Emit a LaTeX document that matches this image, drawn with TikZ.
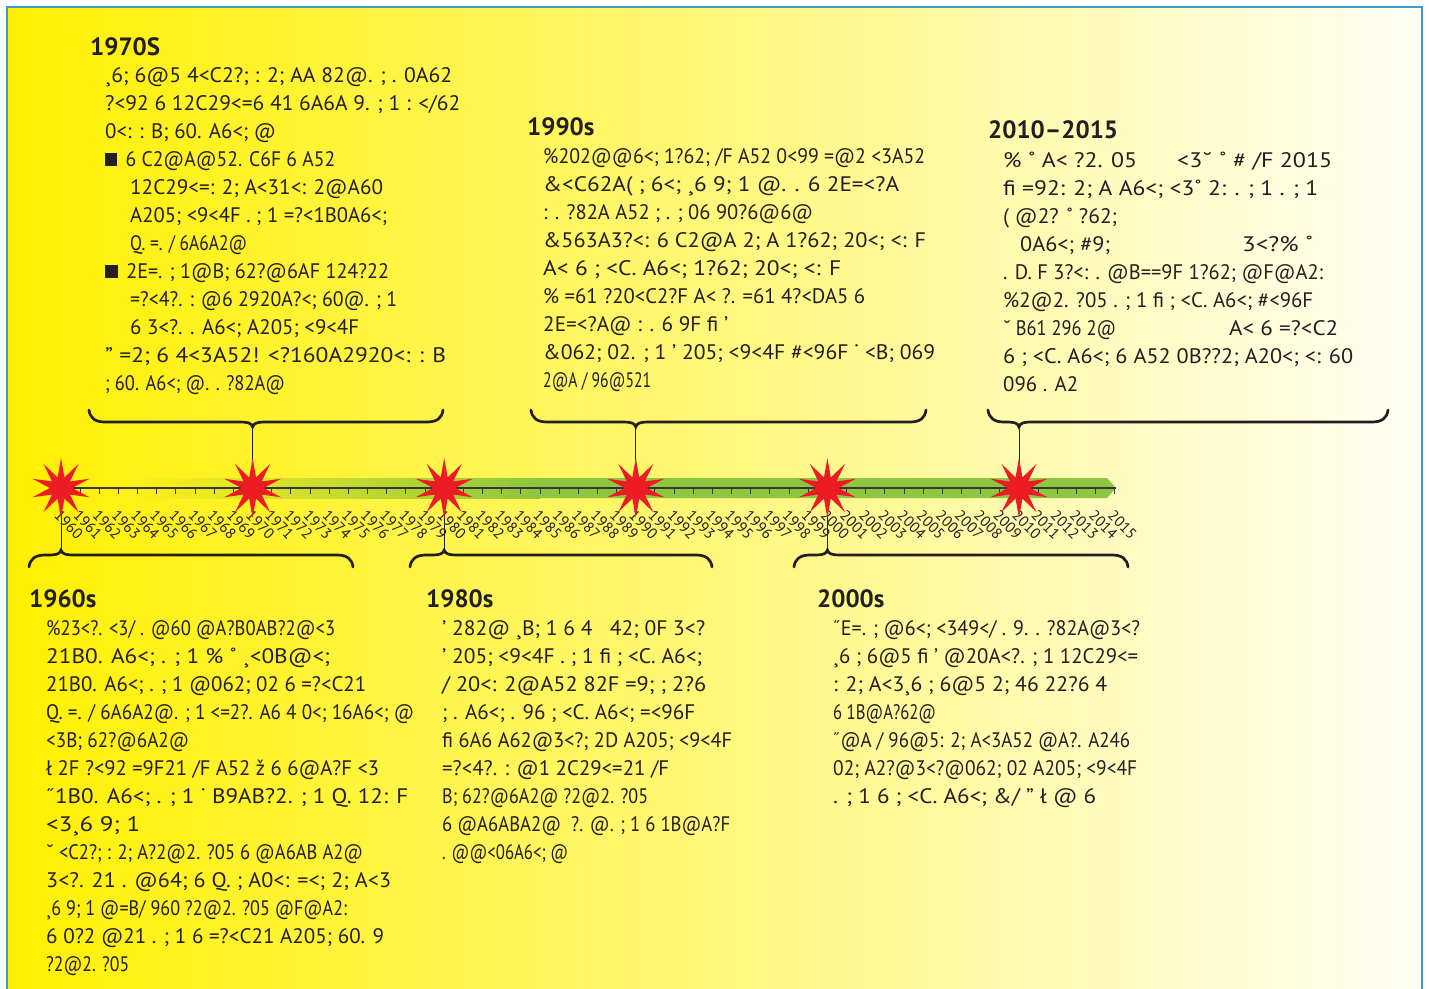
\documentclass[tikz,border=0pt]{standalone}
\usepackage{fontspec}
\setmainfont{PT Sans}
\usetikzlibrary{shapes.geometric}
\definecolor{ink}{HTML}{231F20}
\definecolor{bandgreen}{HTML}{8DC63F}
\definecolor{burstred}{HTML}{ED1C24}
\definecolor{frameblue}{HTML}{3D9AD6}
\definecolor{bgleft}{HTML}{FFF000}
\definecolor{bgmid}{HTML}{FFF69A}
\definecolor{bgright}{HTML}{FFFEF4}
\definecolor{bgband}{HTML}{FFF11C}
% #1 x left, #2 x right, #3 x tip, #4 y of ends, #5 direction (+1 tip down, -1 tip up)
\newcommand\tlbrace[5]{%
  \draw[bracestyle] (#1,#4) .. controls ({#1+1},{#4+8*#5}) and ({#1+6},{#4+12*#5}) .. ({#1+16},{#4+12*#5})
    -- ({#3-12},{#4+12*#5}) .. controls ({#3-5},{#4+12*#5}) and ({#3-1},{#4+13*#5}) .. ({#3},{#4+17*#5})
    .. controls ({#3+1},{#4+13*#5}) and ({#3+5},{#4+12*#5}) .. ({#3+12},{#4+12*#5})
    -- ({#2-16},{#4+12*#5}) .. controls ({#2-6},{#4+12*#5}) and ({#2-1},{#4+8*#5}) .. (#2,#4);}
\newcommand\sq{\rule{13pt}{13pt}\hspace{9pt}}
\newsavebox\fitbox
\newcommand\fitline[2]{\sbox\fitbox{#2}\scalebox{\fpeval{(#1pt)/(\the\wd\fitbox)}}[1]{\usebox\fitbox}}
\newcommand\ind{\hspace*{25pt}}
\begin{document}
\begin{tikzpicture}[x=1pt,y=-1pt,
  bracestyle/.style={draw=ink,line width=2.7pt,line cap=round},
  conn/.style={draw=ink,line width=1pt},
  burst/.style={star,star points=10,star point ratio=2.7,minimum size=60pt,inner sep=0pt,fill=burstred,draw=none},
  ttl/.style={font=\fontsize{25}{30}\selectfont\bfseries,text=ink,anchor=base west,inner sep=0pt},
  body/.style={font=\fontsize{21}{28}\selectfont,text=ink,anchor=base west,inner sep=0pt},
  yr/.style={font=\fontsize{15}{15}\selectfont,text=ink,rotate=-45,anchor=west,inner sep=0pt}]
\useasboundingbox (0,0) rectangle (1429,988);
\fill[white] (0,0) rectangle (1429,988);
\shade[left color=bgleft,middle color=bgmid,right color=bgright] (7,7) rectangle (1422,992);
\draw[frameblue,line width=1.2pt] (7,995) -- (7,7) -- (1422,7) -- (1422,995);

% green band
\shade[left color=bgband,right color=bandgreen] (130,478) rectangle (540,498);
\fill[bandgreen] (539,478) -- (1107,478) -- (1116,488) -- (1107,498) -- (539,498) -- cycle;

% axis and ticks
\coordinate (c1960) at (61,488);
\coordinate (c1970) at (252.6,488);
\coordinate (c1980) at (444.2,488);
\coordinate (c1990) at (635.8,488);
\coordinate (c2000) at (827.4,488);
\coordinate (c2010) at (1019,488);
\coordinate (axend) at (1116,488);
\draw[ink!90,line width=1.5pt] (c1960) -- (axend);
\foreach \k [evaluate=\k as \yy using int(1960+\k)] in {0,...,55}{
  \draw[ink!90,line width=1pt] ({61+19.16*\k},488) -- ({61+19.16*\k},494);
  \node[yr] (yr\yy) at ({57+19.16*\k},513) {\yy};
}

% brace tips
\coordinate (tip70) at (252.6,428);
\coordinate (tip90) at (635.8,428);
\coordinate (tip10) at (1019,428);
\coordinate (tip60) at (61,550);
\coordinate (tip80) at (444.2,550);
\coordinate (tip00) at (827.4,550);

\tlbrace{89}{443}{252.6}{410}{1}
\tlbrace{531}{926}{635.8}{410}{1}
\tlbrace{988}{1388}{1019}{410}{1}
\tlbrace{29}{353}{61}{567}{-1}
\tlbrace{410}{712}{444.2}{567}{-1}
\tlbrace{794}{1128}{827.4}{567}{-1}

\draw[conn] (tip70) -- (c1970);
\draw[conn] (tip90) -- (c1990);
\draw[conn] (tip10) -- (c2010);
\draw[conn] (c1960) -- (tip60);
\draw[conn] (c1980) -- (tip80);
\draw[conn] (c2000) -- (tip00);

% stars
\node[burst] (s1960) at (c1960) {};
\node[burst] (s1970) at (c1970) {};
\node[burst] (s1980) at (c1980) {};
\node[burst] (s1990) at (c1990) {};
\node[burst] (s2000) at (c2000) {};
\node[burst] (s2010) at (c2010) {};

% 1970s
\node[ttl] (t70) at (90,55) {1970S};
\foreach \s [count=\i] in {
 {\fitline{347}{¸6; 6@5 4<C2?; : 2; AA 82@. ; . 0A62}},
 {\fitline{355}{?<92 6 12C29<=6 41 6A6A 9. ; 1 : </62}},
 {\fitline{171}{0<: : B; 60. A6<; @}},
 {\fitline{230}{\sq 6 C2@A@52. C6F 6 A52}},
 {\ind\fitline{253}{12C29<=: 2; A<31<: 2@A60}},
 {\ind\fitline{257}{A205; <9<4F . ; 1 =?<1B0A6<;}},
 {\ind\fitline{117}{Q. =. / 6A6A2@}},
 {\fitline{284}{\sq 2E=. ; 1@B; 62?@6AF 124?22}},
 {\ind\fitline{267}{=?<4?. : @6 2920A?<; 60@. ; 1}},
 {\ind\fitline{229}{6 3<?. . A6<; A205; <9<4F}},
 {\fitline{341}{" =2; 6 4<3A52! <?160A2920<: : B}},
 {\fitline{180}{; 60. A6<; @. . ?82A@}}}
 \node[body] (b70-\i) at (105,{82+28*(\i-1)}) {\s};

% 1990s
\node[ttl] (t90) at (527,135) {1990s};
\foreach \s [count=\i] in {
 {\fitline{382}{\%202@@6<; 1?62; /F A52 0<99 =@2 <3A52}},
 {\fitline{356}{\&<C62A( ; 6<; ¸6 9; 1 @. . 6 2E=<?A}},
 {\fitline{270}{: . ?82A A52 ; . ; 06 90?6@6@}},
 {\fitline{383}{\&563A3?<: 6 C2@A 2; A 1?62; 20<; <: F}},
 {\fitline{298}{A< 6 ; <C. A6<; 1?62; 20<; <: F}},
 {\fitline{322}{\% =61 ?20<C2?F A< ?. =61 4?<DA5 6}},
 {\fitline{185}{2E=<?A@ : . 6 9F fi '}},
 {\fitline{392}{\&062; 02. ; 1 ' 205; <9<4F \#<96F ˙ <B; 069}},
 {\fitline{108}{2@A / 96@521}}}
 \node[body] (b90-\i) at (543,{163+28*(\i-1)}) {\s};

% 2010-2015
\node[ttl] (t10) at (988,138) {2010–2015};
\foreach \s [count=\i] in {
 {\fitline{134}{\% ˚ A< ?2. 05}},
 {\fitline{315}{fi =92: 2; A A6<; <3˚ 2: . ; 1 . ; 1}},
 {\fitline{114}{( @2? ˚ ?62;}},
 {\hspace*{17pt}\fitline{90}{0A6<; \#9;}},
 {\fitline{320}{. D. F 3?<: . @B==9F 1?62; @F@A2:}},
 {\fitline{310}{\%2@2. ?05 . ; 1 fi ; <C. A6<; \#<96F}},
 {\fitline{113}{˘ B61 296 2@}},
 {\fitline{350}{6 ; <C. A6<; 6 A52 0B??2; A20<; <: 60}},
 {\fitline{75}{096 . A2}}}
 \node[body] (b10-\i) at (1003,{167+28*(\i-1)}) {\s};
\node[body] (b10-1b) at (1177,167) {\fitline{155}{<3˘ ˚ \# /F 2015}};
\node[body] (b10-4b) at (1242,251) {\fitline{71}{3<?\% ˚}};
\node[body] (b10-7b) at (1229,335) {\fitline{109}{A< 6 =?<C2}};

% 1960s
\node[ttl] (t60) at (29,607) {1960s};
\foreach \s [count=\i] in {
 {\fitline{289}{\%23<?. <3/ . @60 @A?B0AB?2@<3}},
 {\fitline{284}{21B0. A6<; . ; 1 \% ˚ ¸<0B@<;}},
 {\fitline{320}{21B0. A6<; . ; 1 @062; 02 6 =?<C21}},
 {\fitline{368}{Q. =. / 6A6A2@. ; 1 <=2?. A6 4 0<; 16A6<; @}},
 {\fitline{143}{<3B; 62?@6A2@}},
 {\fitline{333}{ł 2F ?<92 =9F21 /F A52 ž 6 6@A?F <3}},
 {\fitline{362}{˝1B0. A6<; . ; 1 ˙ B9AB?2. ; 1 Q. 12: F}},
 {\fitline{94}{<3¸6 9; 1}},
 {\fitline{317}{˘ <C2?; : 2; A?2@2. ?05 6 @A6AB A2@}},
 {\fitline{345}{3<?. 21 . @64; 6 Q. ; A0<: =<; 2; A<3}},
 {\fitline{301}{¸6 9; 1 @=B/ 960 ?2@2. ?05 @F@A2:}},
 {\fitline{338}{6 0?2 @21 . ; 1 6 =?<C21 A205; 60. 9}},
 {\fitline{83}{?2@2. ?05}}}
 \node[body] (b60-\i) at (46,{635+28*(\i-1)}) {\s};

% 1980s
\node[ttl] (t80) at (426,607) {1980s};
\foreach \s [count=\i] in {
 {\fitline{263}{' 282@ ¸B; 1 6 4 \ \ 42; 0F 3<?}},
 {\fitline{260}{' 205; <9<4F . ; 1 fi ; <C. A6<;}},
 {\fitline{264}{/ 20<: 2@A52 82F =9; ; 2?6}},
 {\fitline{253}{; . A6<; . 96 ; <C. A6<; =<96F}},
 {\fitline{290}{fi 6A6 A62@3<?; 2D A205; <9<4F}},
 {\fitline{227}{=?<4?. : @1 2C29<=21 /F}},
 {\fitline{206}{B; 62?@6A2@ ?2@2. ?05}},
 {\fitline{288}{6 @A6ABA2@ \ ?. @. ; 1 6 1B@A?F}},
 {\fitline{126}{. @@<06A6<; @}}}
 \node[body] (b80-\i) at (442,{635+28*(\i-1)}) {\s};

% 2000s
\node[ttl] (t00) at (817,607) {2000s};
\foreach \s [count=\i] in {
 {\fitline{307}{˝E=. ; @6<; <349</ . 9. . ?82A@3<?}},
 {\fitline{305}{¸6 ; 6@5 fi ' @20A<?. ; 1 12C29<=}},
 {\fitline{274}{: 2; A<3¸6 ; 6@5 2; 46 22?6 4}},
 {\fitline{103}{6 1B@A?62@}},
 {\fitline{297}{˝@A / 96@5: 2; A<3A52 @A?. A246}},
 {\fitline{304}{02; A2?@3<?@062; 02 A205; <9<4F}},
 {\fitline{263}{. ; 1 6 ; <C. A6<; \&/ " ł @ 6}}}
 \node[body] (b00-\i) at (833,{635+28*(\i-1)}) {\s};
\end{tikzpicture}
\end{document}
